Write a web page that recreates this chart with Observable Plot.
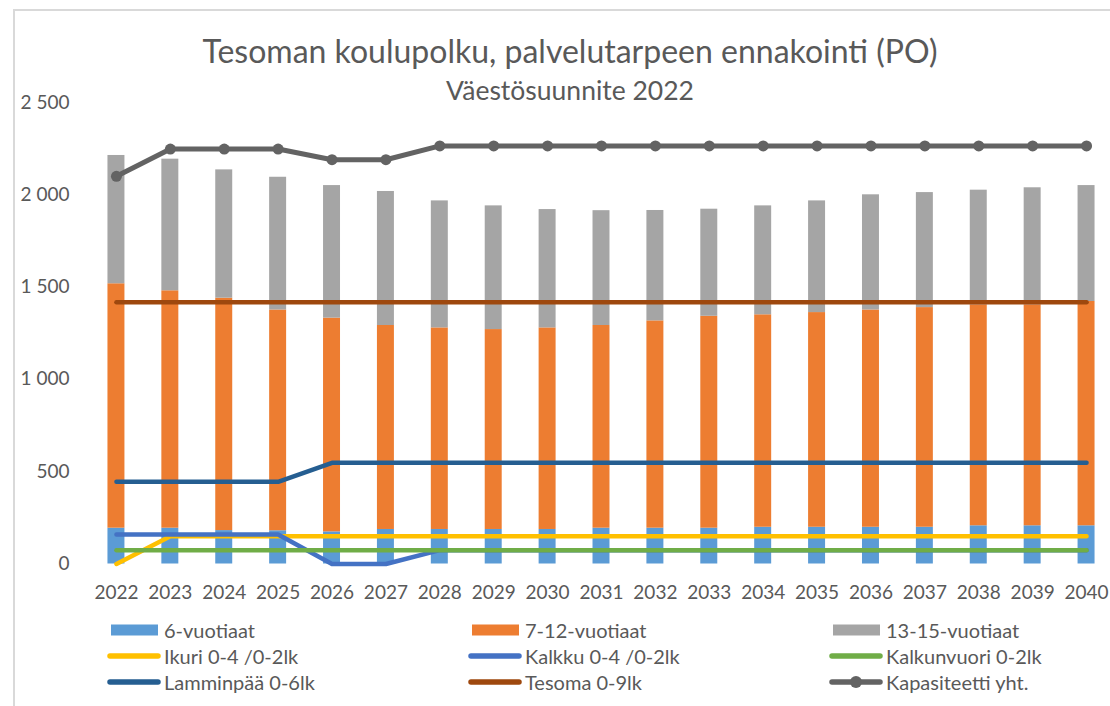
<!DOCTYPE html>
<html>
<head>
<meta charset="utf-8">
<script src="https://cdn.jsdelivr.net/npm/d3@7"></script>
<script src="https://cdn.jsdelivr.net/npm/@observablehq/plot@0.6"></script>
<style>
  body { margin: 0; background: #fff; font-family: Lato, "Open Sans", sans-serif; }
  #wrap { position: relative; width: 1110px; height: 706px; overflow: hidden; background: #fff; }
  #border { position: absolute; left: 13px; top: 9px; width: 1200px; height: 800px;
            border-left: 2px solid #d9d9d9; border-top: 2px solid #d9d9d9; }
  #chart { position: absolute; left: 0; top: 0; }
  .ttl { position: absolute; left: 0; width: 1140px; text-align: center; color: #595959; white-space: nowrap; line-height: 1.2; }
  #title { top: 32px; font-size: 32px; }
  #subtitle { top: 75px; font-size: 26.5px; }
  .leg { position: absolute; display: flex; align-items: center; color: #595959; font-size: 20px; white-space: nowrap; height: 24px; }
  .leg svg { margin-right: 3px; }
</style>
</head>
<body>
<div id="wrap">
  <div id="border"></div>
  <div id="chart"></div>
  <div id="title" class="ttl">Tesoman koulupolku, palvelutarpeen ennakointi (PO)</div>
  <div id="subtitle" class="ttl">Väestösuunnite 2022</div>
  <div id="legend"></div>
</div>
<script>
// ---- Data ----
const years = ["2022","2023","2024","2025","2026","2027","2028","2029","2030","2031","2032","2033","2034","2035","2036","2037","2038","2039","2040"];

const barNames  = ["6-vuotiaat", "7-12-vuotiaat", "13-15-vuotiaat"];
const barColors = ["#5b9bd5", "#ed7d31", "#a5a5a5"];
const age6     = [194,194,181,180,174,187,187,187,187,194,194,194,199,199,199,199,207,207,207];
const age7_12  = [1324,1286,1259,1196,1158,1105,1092,1083,1092,1098,1123,1148,1151,1163,1177,1190,1197,1197,1215];
const age13_15 = [695,713,695,719,718,726,688,670,641,622,598,580,590,605,624,623,621,634,628];

const lineNames  = ["Ikuri 0-4 /0-2lk", "Kalkku 0-4 /0-2lk", "Kalkunvuori 0-2lk", "Lamminpää 0-6lk", "Tesoma 0-9lk", "Kapasiteetti yht."];
const lineColors = ["#ffc000", "#4472c4", "#70ad47", "#255e91", "#9e480e", "#636363"];
const ikuri       = [0,150,150,150,150,150,150,150,150,150,150,150,150,150,150,150,150,150,150];
const kalkku      = [160,160,160,160,0,0,75,75,75,75,75,75,75,75,75,75,75,75,75];
const kalkunvuori = [75,75,75,75,75,75,75,75,75,75,75,75,75,75,75,75,75,75,75];
const lamminpaa   = [445,445,445,445,548,548,548,548,548,548,548,548,548,548,548,548,548,548,548];
const tesoma      = [1418,1418,1418,1418,1418,1418,1418,1418,1418,1418,1418,1418,1418,1418,1418,1418,1418,1418,1418];
const kapasiteetti= [2100,2248,2248,2248,2190,2190,2265,2265,2265,2265,2265,2265,2265,2265,2265,2265,2265,2265,2265];

const yTicks = [0, 500, 1000, 1500, 2000, 2500];

// ---- Build tables ----
const barValues = [age6, age7_12, age13_15];
const bars = barNames.flatMap((name, k) => barValues[k].map((v, i) => ({year: years[i], group: name, value: v})));
const lineValues = [ikuri, kalkku, kalkunvuori, lamminpaa, tesoma, kapasiteetti];
const lineData = lineNames.map((name, k) => lineValues[k].map((v, i) => ({year: years[i], value: v})));

const fmt = d => d3.format(",")(d).replace(/,/g, " ");

const H = 600;
const chart = Plot.plot({
  width: 1110,
  height: H,
  marginTop: 102,
  marginBottom: H - 563.5,
  marginLeft: 89,
  marginRight: 0,
  style: {fontFamily: "Lato, 'Open Sans', sans-serif", fontSize: "19px", color: "#595959", background: "transparent", overflow: "visible"},
  x: {type: "band", domain: years, range: [89, 1113], round: false, paddingInner: 0.685, paddingOuter: 0.3425, tickSize: 0, tickPadding: 21, label: null},
  y: {domain: [0, 2500], ticks: yTicks, tickFormat: fmt, tickSize: 0, tickPadding: 20, label: null},
  color: {domain: barNames, range: barColors},
  marks: [
    Plot.ruleY(yTicks, {stroke: "#d9d9d9", strokeWidth: 1.5, x1: 88, x2: 1110}),
    Plot.barY(bars, {x: "year", y: "value", fill: "group"}),
    ...lineData.map((d, k) => Plot.line(d, {x: "year", y: "value", stroke: lineColors[k], strokeWidth: k === 5 ? 5 : 4.5, strokeLinecap: "round", strokeLinejoin: "round"})),
    Plot.dot(lineData[5], {x: "year", y: "value", r: 5.5, fill: lineColors[5], stroke: "none"})
  ]
});
document.getElementById("chart").appendChild(chart);

// ---- Legend ----
const legend = document.getElementById("legend");
const items = [
  ...barNames.map((n, k) => ({name: n, color: barColors[k], kind: "bar"})),
  ...lineNames.map((n, k) => ({name: n, color: lineColors[k], kind: k === 5 ? "marker" : "line"}))
];
const colX = [107, 468, 829];
const rowY = [630, 656, 682];
items.forEach((it, idx) => {
  const col = idx % 3, row = Math.floor(idx / 3);
  const div = document.createElement("div");
  div.className = "leg";
  div.style.left = colX[col] + "px";
  div.style.top = (rowY[row] - 12) + "px";
  let sw;
  if (it.kind === "bar") {
    sw = `<svg width="54" height="24"><rect x="4" y="6.5" width="47" height="11" fill="${it.color}"/></svg>`;
  } else if (it.kind === "line") {
    sw = `<svg width="54" height="24"><line x1="3" y1="12" x2="51" y2="12" stroke="${it.color}" stroke-width="5.5" stroke-linecap="round"/></svg>`;
  } else {
    sw = `<svg width="54" height="24"><line x1="3" y1="12" x2="51" y2="12" stroke="${it.color}" stroke-width="5.5" stroke-linecap="round"/><circle cx="27" cy="12" r="6" fill="${it.color}"/></svg>`;
  }
  div.innerHTML = sw + `<span>${it.name}</span>`;
  legend.appendChild(div);
});
</script>
</body>
</html>
